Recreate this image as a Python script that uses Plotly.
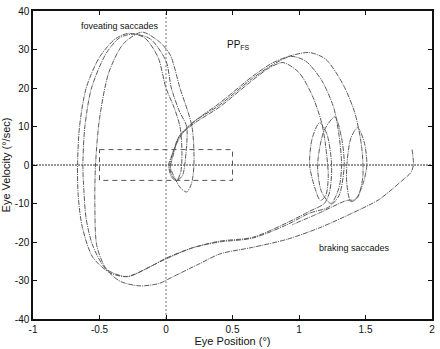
import plotly.graph_objects as go

# ---- data (eye position in deg, eye velocity in deg/sec) ----
traj_a_x = [0.03, 0.05, 0.1, 0.2, 0.4, 0.65, 0.8, 0.94, 1.05, 1.17, 1.26, 1.3, 1.32, 1.3, 1.24, 1.17, 1.14,
            1.19, 1.27, 1.32, 1.34, 1.3, 1.22, 1.08, 0.91, 0.65, 0.4, 0.2, 0.0, -0.15, -0.3, -0.42, -0.55,
            -0.63, -0.66, -0.665, -0.65, -0.6, -0.5, -0.38, -0.28, -0.16, -0.06, 0.0, 0.06, 0.105, 0.12,
            0.11, 0.08, 0.05, 0.03]
traj_a_v = [-1, 2, 7.5, 11, 15.5, 22.5, 26, 28.2, 27, 22, 15, 8, 0, -6, -10, -7, 0,
            9, 12.5, 7, 0, -8, -11, -12.5, -15.5, -19, -20, -21.5, -24.2, -27, -29, -28, -24,
            -16, -8, 0, 10, 20, 28, 32.8, 34.2, 33, 28, 20, 15, 10, 3,
            -2, -4, -3, -1]

traj_b_x = [0.02, 0.05, 0.1, 0.22, 0.4, 0.65, 0.78, 0.88, 1.0, 1.1, 1.17, 1.2, 1.22, 1.2, 1.16, 1.12, 1.08,
            1.1, 1.155, 1.21, 1.245, 1.23, 1.19, 1.08, 0.91, 0.65, 0.4, 0.2, 0.0, -0.12, -0.29, -0.45, -0.55,
            -0.6, -0.62, -0.625, -0.61, -0.56, -0.45, -0.35, -0.25, -0.12, 0.0, 0.04, 0.1, 0.155, 0.15,
            0.12, 0.07, 0.04, 0.02]
traj_b_v = [0, 3, 7.5, 11, 15, 22, 25.3, 26.6, 24, 18, 11, 5, -3, -8, -9.2, -6, 0,
            7, 11, 8, 0, -7, -10, -12, -15, -18.8, -19.8, -21.5, -24.4, -26.4, -29, -27, -21,
            -14, -5, 0, 10, 20, 29, 33, 34, 32.8, 27, 20, 14, 10, 3,
            -3, -4, -3, 0]

traj_c_x = [1.85, 1.86, 1.84, 1.77, 1.6, 1.4, 1.155, 0.91, 0.65, 0.405, 0.255, 0.03, -0.045, -0.195, -0.345,
            -0.45, -0.52, -0.535, -0.53, -0.5, -0.43, -0.32, -0.18, -0.05, 0.03, 0.105, 0.195, 0.21, 0.19,
            0.155, 0.11, 0.06, 0.03, 0.06, 0.12, 0.22, 0.4, 0.65, 0.8, 0.95, 1.08, 1.2, 1.33, 1.42, 1.47,
            1.48, 1.44, 1.39, 1.36, 1.36, 1.39, 1.44, 1.49, 1.51, 1.48, 1.42, 1.36, 1.15, 0.95]
traj_c_v = [4, 0, -2, -4.2, -9, -12.5, -16.3, -19.3, -21.4, -23.1, -25.6, -29.4, -30.7, -31.4, -30.2,
            -27, -21, -10, 0, 12, 24, 31.5, 34.5, 32, 28.7, 20, 10, 0, -5,
            -7, -6, -3, 0, 4, 8, 11.5, 16, 23, 26.5, 28.5, 29.2, 27.5, 21, 13.5, 5,
            -3, -8.5, -9.5, -5, 0, 7, 9.7, 6, 0, -5, -9, -9.2, -12.5, -15.5]

rect_x = [-0.5, 0.5, 0.5, -0.5, -0.5]
rect_v = [4, 4, -4, -4, 4]

x_ticks = [-1, -0.5, 0, 0.5, 1, 1.5, 2]
x_tick_labels = ["-1", "-0.5", "0", "0.5", "1", "1.5", "2"]
y_ticks = [-40, -30, -20, -10, 0, 10, 20, 30, 40]
y_tick_labels = ["-40", "-30", "-20", "-10", "0", "10", "20", "30", "40"]

fig = go.Figure()

# zero lines
fig.add_trace(go.Scatter(x=[-1, 2], y=[0, 0], mode="lines",
                         line=dict(color="#333", width=1, dash="2px,1px"), hoverinfo="skip"))
fig.add_trace(go.Scatter(x=[0, 0], y=[-40, 40], mode="lines",
                         line=dict(color="#777", width=1, dash="2px,2px"), hoverinfo="skip"))
# dashed box
fig.add_trace(go.Scatter(x=rect_x, y=rect_v, mode="lines",
                         line=dict(color="#555", width=1, dash="5px,4px"), hoverinfo="skip"))

style = dict(color="#5a5a5a", width=1, dash="5px,1px,1px,1px")
for tx, tv in [(traj_a_x, traj_a_v), (traj_b_x, traj_b_v), (traj_c_x, traj_c_v)]:
    fig.add_trace(go.Scatter(x=tx, y=tv, mode="lines", line=dict(shape="spline", smoothing=0.8, **style)))

font = dict(family="Liberation Sans, Arial, sans-serif", size=10, color="#111")
ann_font = dict(family="Liberation Sans, Arial, sans-serif", size=9, color="#111")

fig.add_annotation(x=-0.345, y=36, text="foveating saccades", showarrow=False, font=ann_font)
fig.add_annotation(x=0.44, y=31.2, text="PP<sub>FS</sub>", showarrow=False, font=font, xanchor="left")
fig.add_annotation(x=1.42, y=-21.6, text="braking saccades", showarrow=False, font=ann_font)

axis_common = dict(showline=True, linecolor="#111", linewidth=1.5, mirror="ticks", ticks="inside",
                   ticklen=4, tickcolor="#111", showgrid=False, zeroline=False, tickfont=font)

fig.update_layout(
    width=440, height=349, showlegend=False,
    margin=dict(l=33, r=7, t=5, b=27),
    paper_bgcolor="white", plot_bgcolor="white",
    xaxis=dict(range=[-1, 2], tickvals=x_ticks, ticktext=x_tick_labels,
               title=dict(text="Eye Position (°)", font=dict(family=font["family"], size=11, color="#111"),
                          standoff=2), **axis_common),
    yaxis=dict(range=[-40, 40], tickvals=y_ticks, ticktext=y_tick_labels,
               title=dict(text="Eye Velocity (°/sec)", font=dict(family=font["family"], size=11, color="#111"),
                          standoff=2), **axis_common),
)

fig.write_html("out.html")
